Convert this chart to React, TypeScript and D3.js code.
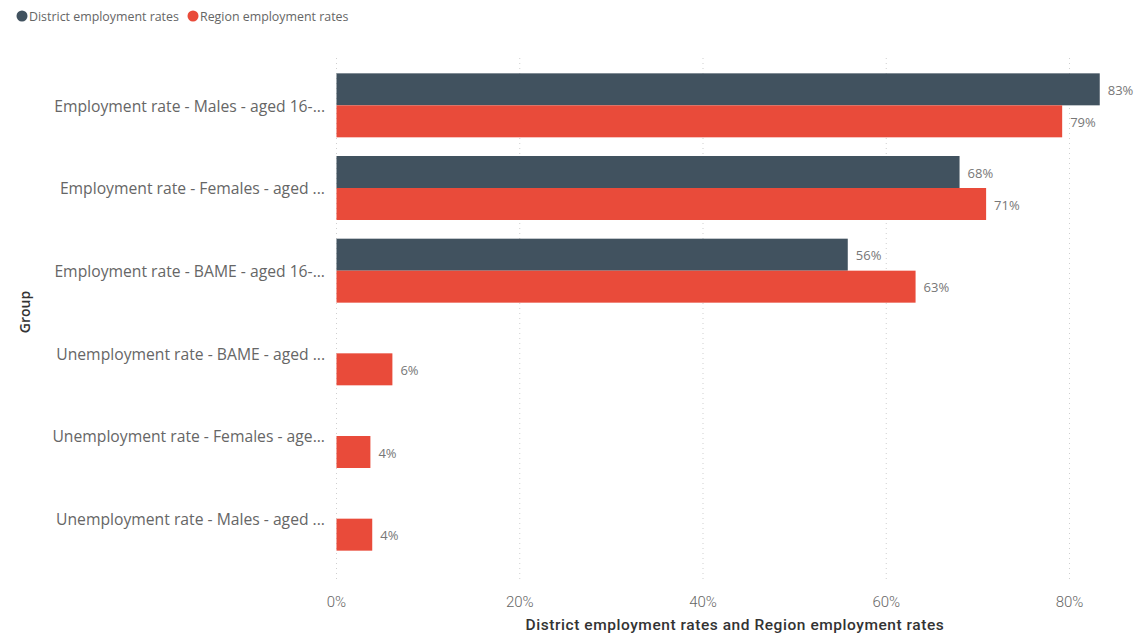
import React from "react";
import * as d3 from "d3";

const categories = [
  "Employment rate - Males - aged 16-...",
  "Employment rate - Females - aged ...",
  "Employment rate - BAME - aged 16-...",
  "Unemployment rate - BAME - aged ...",
  "Unemployment rate - Females - age...",
  "Unemployment rate - Males - aged ...",
];
const districtValues: (number | null)[] = [83.3, 68.0, 55.8, null, null, null];
const regionValues: (number | null)[] = [79.2, 70.9, 63.2, 6.1, 3.7, 3.9];
const xTicks = [0, 20, 40, 60, 80];
const seriesNames = ["District employment rates", "Region employment rates"];
const seriesColors = ["#41525F", "#E94B3A"];

const W = 1134;
const H = 636;
const x = d3.scaleLinear().domain([0, 80]).range([336.5, 1069.5]);
const y = d3
  .scaleBand<string>()
  .domain(categories)
  .range([64, 560])
  .paddingInner(0.226)
  .paddingOuter(0.113);

export default function App() {
  const bw = y.bandwidth();
  const half = bw / 2;
  const font = "'Segoe UI', 'Open Sans', sans-serif";
  const series = [districtValues, regionValues];
  return (
    <svg width={W} height={H} style={{ position: "absolute", left: 0, top: 0, background: "#fff" }}>
      {/* legend */}
      <g fontFamily={font} fontSize={12.4} fill="#666">
        <circle cx={22} cy={16} r={5.5} fill={seriesColors[0]} />
        <text x={29} y={20.5}>{seriesNames[0]}</text>
        <circle cx={193} cy={16} r={5.5} fill={seriesColors[1]} />
        <text x={200} y={20.5}>{seriesNames[1]}</text>
      </g>
      {/* gridlines */}
      {xTicks.map((t) => (
        <line
          key={t}
          x1={x(t)}
          x2={x(t)}
          y1={58}
          y2={582}
          stroke="#cfcfcf"
          strokeWidth={1}
          strokeDasharray="1,4"
        />
      ))}
      {/* bars */}
      {categories.map((c, i) =>
        series.map((vals, s) => {
          const v = vals[i];
          if (v == null) return null;
          const by = (y(c) as number) + s * half;
          return (
            <g key={c + s}>
              <rect x={x(0)} y={by} width={x(v) - x(0)} height={half} fill={seriesColors[s]} />
              <text
                x={x(v) + 8}
                y={by + half / 2 + 1}
                dy="0.35em"
                fontFamily={font}
                fontSize={13}
                fill="#777"
              >
                {Math.round(v)}%
              </text>
            </g>
          );
        })
      )}
      {/* category labels */}
      {categories.map((c) => (
        <text
          key={c}
          x={325}
          y={(y(c) as number) + half + 1}
          dy="0.35em"
          textAnchor="end"
          fontFamily={font}
          fontSize={15.7}
          fill="#666"
        >
          {c}
        </text>
      ))}
      {/* x tick labels */}
      {xTicks.map((t) => (
        <text
          key={t}
          x={x(t)}
          y={607}
          textAnchor="middle"
          fontFamily="Roboto, sans-serif"
          fontSize={15}
          fontWeight={300}
          fill="#666"
        >
          {t}%
        </text>
      ))}
      <text
        x={735}
        y={630}
        textAnchor="middle"
        fontFamily="Roboto, sans-serif"
        fontSize={15.5}
        fontWeight={500}
        letterSpacing={0.55}
        fill="#333"
      >
        District employment rates and Region employment rates
      </text>
      <text
        transform="translate(30,312) rotate(-90)"
        textAnchor="middle"
        fontFamily={font}
        fontSize={14}
        fontWeight={600}
        fill="#333"
      >
        Group
      </text>
    </svg>
  );
}
